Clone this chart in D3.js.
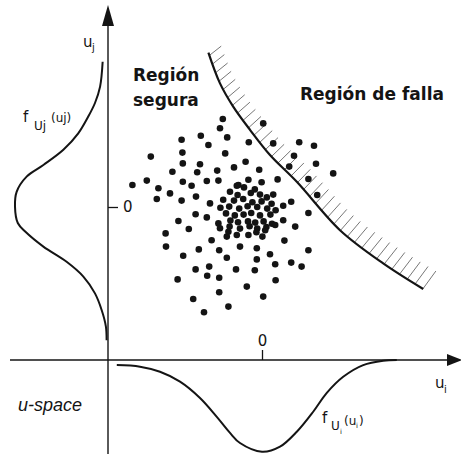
<!DOCTYPE html>
<html>
<head>
<meta charset="utf-8">
<script src="https://cdn.jsdelivr.net/npm/d3@7"></script>
<style>
  html, body { margin: 0; padding: 0; background: #fff; }
  svg { display: block; }
</style>
</head>
<body>
<script>
// Standard normal space (u-space): simulated samples, limit-state surface and marginal densities

// Simulated sample points [u_i, u_j]
const samples = [
  [-0.98,2.20],[-1.05,1.97],[-1.53,1.78],[-0.87,1.74],[-2.01,1.68],[-1.34,1.55],[0.03,2.09],
  [-0.33,1.62],[0.28,1.59],[0.93,1.62],[1.30,1.53],[-2.78,1.26],[-1.99,1.36],[-0.92,1.34],
  [0.80,1.28],[-1.98,1.09],[-1.55,1.07],[-0.41,1.13],[-0.70,0.99],[-0.07,0.93],[0.68,1.01],
  [1.35,1.08],[1.78,0.84],[-2.24,0.88],[-1.62,0.87],[-1.12,0.91],[-1.98,0.63],[-1.38,0.65],
  [-1.09,0.66],[-2.88,0.66],[-3.24,0.55],[-2.59,0.47],[-1.76,0.53],[-2.30,0.34],[-2.63,0.20],
  [-2.01,0.16],[-1.65,0.26],[-1.30,0.09],[0.39,0.69],[1.16,0.70],[-0.34,0.68],[-0.01,0.62],
  [-0.63,0.53],[0.73,0.13],[1.38,0.30],[1.16,-0.15],[0.53,0.03],[-2.09,-0.35],[-1.66,-0.18],
  [-1.38,-0.26],[-1.83,-0.55],[-2.41,-0.66],[-2.40,-0.99],[-1.09,-0.41],[-1.05,-0.53],
  [0.83,-0.49],[0.56,-0.84],[1.16,-1.08],[-1.58,-1.06],[-1.26,-0.83],[-1.07,-1.08],
  [-0.88,-0.74],[-0.55,-0.99],[-0.34,-0.70],[-0.13,-1.03],[0.01,-0.74],[0.20,-1.18],
  [-1.97,-1.22],[-0.88,-1.27],[-0.13,-1.31],[0.33,-1.43],[0.73,-1.39],[0.99,-1.49],
  [-1.66,-1.56],[-1.32,-1.49],[-0.65,-1.56],[-0.18,-1.58],[-2.11,-1.81],[-1.37,-1.72],
  [-1.07,-1.77],[0.34,-1.83],[-0.38,-1.99],[-1.07,-2.13],[-1.72,-2.30],[0.03,-2.24],
  [-0.84,-2.49],[-1.45,-2.63],
  // dense core around the mean
  [-0.59,0.55],[-0.45,0.49],[-0.18,0.44],[-0.80,0.38],[-0.61,0.30],[-0.28,0.35],[-0.05,0.31],
  [0.12,0.24],[0.28,0.31],[-0.97,0.18],[-0.70,0.16],[-0.47,0.20],[-0.24,0.12],[-0.01,0.14],
  [0.24,0.08],[-0.82,0.01],[-0.57,-0.04],[-0.36,0.02],[-0.12,0.00],[0.13,-0.04],[0.34,-0.08],
  [-1.04,-0.02],[-0.90,-0.16],[-0.68,-0.21],[-0.46,-0.19],[-0.27,-0.15],[-0.05,-0.21],
  [0.21,-0.19],[-0.79,-0.34],[-0.60,-0.38],[-0.35,-0.36],[-0.17,-0.39],[0.04,-0.36],
  [0.25,-0.42],[-0.81,-0.49],[-0.55,-0.54],[-0.31,-0.48],[-0.12,-0.54],[0.11,-0.50],
  [0.33,-0.45],[-0.84,-0.62],[-0.14,-0.63],[0.08,-0.58],[0.53,-0.33],[-0.63,-0.70]
];

// Limit-state surface g(u) = 0, points [u_i, u_j]
const limitState = [
  [-1.34,3.86],[-1.05,3.09],[-0.72,2.51],[-0.30,1.93],[0.20,1.30],
  [0.87,0.63],[1.95,-0.58],[3.03,-1.41],[4.03,-2.05]
];

// Marginal density of U_i: [u_i, f]
const pdfUi = [
  [-3.63,0.022],[-3.05,0.029],[-2.55,0.051],[-2.05,0.094],[-1.55,0.165],[-1.13,0.247],
  [-0.80,0.317],[-0.55,0.361],[0.00,0.399],[0.45,0.377],[0.87,0.312],[1.28,0.225],
  [1.62,0.143],[2.03,0.073],[2.53,0.022],[3.03,0.003],[3.37,0.000]
];

// Marginal density of U_j: [u_j, f]
const pdfUj = [
  [3.63,0.023],[3.01,0.034],[2.60,0.056],[2.26,0.085],[1.84,0.128],[1.43,0.192],
  [1.05,0.278],[0.76,0.350],[0.38,0.393],[0.01,0.400],[-0.40,0.388],[-0.62,0.355],
  [-0.99,0.278],[-1.37,0.178],[-1.74,0.106],[-2.16,0.056],[-2.58,0.027],[-2.99,0.009],
  [-3.33,0.006]
];

const tickValues = [0];
const axisCross = [-3.85, -3.825];   // where the two drawn axes cross, in u units
const axisExtentUi = [-6.3, 5.0];
const axisExtentUj = [-6.175, 5.05];

const W = 461, H = 455;
const svg = d3.select("body").append("svg").attr("width", W).attr("height", H);

const x = d3.scaleLinear().domain([-4, 5]).range([102, 462]);
const y = d3.scaleLinear().domain([-4, 5]).range([367, 7]);
const densH = d3.scaleLinear().domain([0, 0.4]).range([y(axisCross[1]), 452]);
const densV = d3.scaleLinear().domain([0, 0.4]).range([x(axisCross[0]), 15]);

const ink = "#141414";
const sans = "'DejaVu Sans', Verdana, sans-serif";

// --- axes ---
const ax = x(axisCross[0]), ay = y(axisCross[1]);
svg.append("line")
  .attr("x1", ax).attr("x2", ax)
  .attr("y1", y(axisExtentUj[0])).attr("y2", y(axisExtentUj[1]) + 16)
  .attr("stroke", ink).attr("stroke-width", 1.4);
svg.append("line")
  .attr("x1", x(axisExtentUi[0])).attr("x2", x(axisExtentUi[1]) - 12)
  .attr("y1", ay).attr("y2", ay)
  .attr("stroke", ink).attr("stroke-width", 1.6);

// arrow heads
const tipY = y(axisExtentUj[1]);
svg.append("path")
  .attr("d", `M${ax},${tipY} L${ax - 6},${tipY + 21} L${ax + 6},${tipY + 21} Z`)
  .attr("fill", ink);
const tipX = x(axisExtentUi[1]);
svg.append("path")
  .attr("d", `M${tipX},${ay} L${tipX - 15},${ay - 6} L${tipX - 15},${ay + 6} Z`)
  .attr("fill", ink);

// zero ticks
const axisV = d3.axisRight(y).tickValues(tickValues).tickSize(10).tickPadding(5).tickFormat(d3.format("d"));
const gV = svg.append("g").attr("transform", `translate(${ax},0)`).call(axisV);
const axisH = d3.axisTop(x).tickValues(tickValues).tickSize(10).tickPadding(4).tickFormat(d3.format("d"));
const gH = svg.append("g").attr("transform", `translate(0,${ay})`).call(axisH);
[gV, gH].forEach(g => {
  g.select(".domain").remove();
  g.selectAll("line").attr("stroke", ink).attr("stroke-width", 1.3);
  g.selectAll("text").attr("fill", ink).style("font-family", sans).style("font-size", "15px");
});

// --- marginal densities ---
const lineUi = d3.line().x(d => x(d[0])).y(d => densH(d[1])).curve(d3.curveCatmullRom);
svg.append("path").datum(pdfUi).attr("d", lineUi)
  .attr("fill", "none").attr("stroke", ink).attr("stroke-width", 2);

const lineUj = d3.line().x(d => densV(d[1])).y(d => y(d[0])).curve(d3.curveCatmullRom);
svg.append("path").datum(pdfUj).attr("d", lineUj)
  .attr("fill", "none").attr("stroke", ink).attr("stroke-width", 2);

// --- limit-state surface with hatching on the failure side ---
const lineLS = d3.line().x(d => x(d[0])).y(d => y(d[1])).curve(d3.curveCatmullRom);
const hatchG = svg.append("g");
const lsPath = svg.append("path").datum(limitState).attr("d", lineLS)
  .attr("fill", "none").attr("stroke", ink).attr("stroke-width", 2.2);
const node = lsPath.node();
const L = node.getTotalLength();
for (let s = 3; s <= L; s += 9.2) {
  const p = node.getPointAtLength(s);
  const t = s / L;
  const ang = (38 + 16 * t) * Math.PI / 180;
  const len = 15 + 7 * t;
  hatchG.append("line")
    .attr("x1", p.x).attr("y1", p.y)
    .attr("x2", p.x + len * Math.cos(ang)).attr("y2", p.y - len * Math.sin(ang))
    .attr("stroke", "#777").attr("stroke-width", 1);
}

// --- samples ---
svg.append("g").selectAll("circle").data(samples).join("circle")
  .attr("cx", d => x(d[0])).attr("cy", d => y(d[1])).attr("r", 3.3)
  .attr("fill", ink);

// --- labels ---
const bold = { "font-family": sans, "font-weight": "bold", "font-size": "17px", fill: ink };
function txt(xp, yp, s, style) {
  const t = svg.append("text").attr("x", xp).attr("y", yp).text(s);
  Object.entries(style).forEach(([k, v]) => t.style(k, v));
  return t;
}
txt(133, 81, "Región", bold);
txt(133, 106, "segura", bold);
txt(300, 100, "Región de falla", bold);

txt(18, 411, "u-space", { "font-family": "'Liberation Sans', Arial, sans-serif", "font-style": "italic", "font-size": "18px", fill: ink });

const lab = { "font-family": sans, fill: ink };
// u_j
const tuj = svg.append("text").attr("x", 83).attr("y", 47).style("font-family", sans).attr("fill", ink);
tuj.append("tspan").text("u").style("font-size", "15px");
tuj.append("tspan").text("j").attr("x", 92).attr("y", 51).style("font-size", "10px");
// u_i
const tui = svg.append("text").attr("x", 435).attr("y", 388).style("font-family", sans).attr("fill", ink);
tui.append("tspan").text("u").style("font-size", "15px");
tui.append("tspan").text("i").attr("x", 444).attr("y", 393).style("font-size", "10px");

// f_Uj(uj)
const tfj = svg.append("text").style("font-family", sans).attr("fill", ink);
tfj.append("tspan").text("f").attr("x", 23).attr("y", 122).style("font-size", "15px");
tfj.append("tspan").text("Uj").attr("x", 34).attr("y", 130).style("font-size", "12px");
tfj.append("tspan").text("(uj)").attr("x", 51).attr("y", 122).style("font-size", "12px");

// f_Ui(ui)
const tfi = svg.append("text").style("font-family", sans).attr("fill", ink);
tfi.append("tspan").text("f").attr("x", 322).attr("y", 423).style("font-size", "15px");
tfi.append("tspan").text("U").attr("x", 331).attr("y", 430).style("font-size", "12px");
tfi.append("tspan").text("i").attr("x", 340).attr("y", 434).style("font-size", "7px");
tfi.append("tspan").text("(u").attr("x", 344).attr("y", 425).style("font-size", "12px");
tfi.append("tspan").text("i").attr("x", 356).attr("y", 428).style("font-size", "7px");
tfi.append("tspan").text(")").attr("x", 359).attr("y", 425).style("font-size", "12px");
</script>
</body>
</html>
